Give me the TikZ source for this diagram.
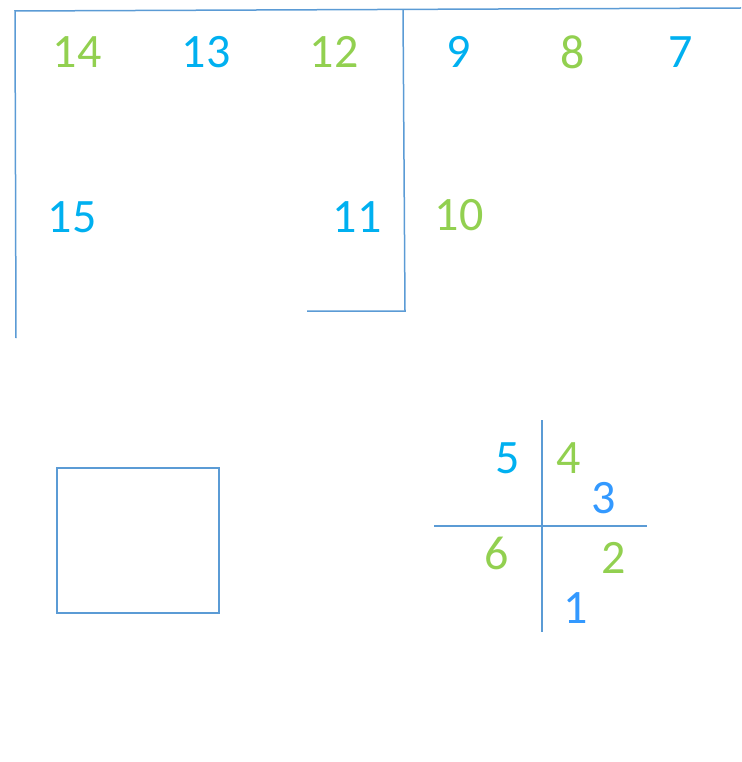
\documentclass[tikz,border=0pt]{standalone}
\usepackage{fontspec}
\setmainfont{Carlito}
\usepackage{tikz}
\usepackage{xcolor}
\definecolor{numgreen}{HTML}{92D050}
\definecolor{numcyan}{HTML}{00B0F0}
\definecolor{numblue}{HTML}{3399FF}
\definecolor{linecol}{HTML}{5B9BD5}

\begin{document}
\begin{tikzpicture}[
  x=1pt, y=-1pt,
  num/.style={inner sep=0pt, font=\fontsize{48}{48}\selectfont},
  gnum/.style={num, text=numgreen},
  cnum/.style={num, text=numcyan},
  bnum/.style={num, text=numblue},
  ln/.style={draw=linecol, line width=1.5pt}
]
\useasboundingbox (0,0) rectangle (741,762);

% frame lines
\draw[ln] (16,338) -- (15,11) -- (741,8);
\draw[ln] (403,10) -- (405,311) -- (307,311);
\draw[ln] (57,468) rectangle (219,613);
\draw[ln] (542,420) -- (542,632);
\draw[ln] (434,526) -- (647,526);

% top row
\node[gnum] (n14) at (77,52)  {14};
\node[cnum] (n13) at (206,52) {13};
\node[gnum] (n12) at (334,52) {12};
\node[cnum] (n9)  at (459,52) {9};
\node[gnum] (n8)  at (573,52) {8};
\node[cnum] (n7)  at (681,52) {7};

% middle row
\node[cnum] (n15) at (72,217)  {15};
\node[cnum] (n11) at (357,217) {11};
\node[gnum] (n10) at (459,215) {10};

% cross
\node[cnum] (n5) at (508,458) {5};
\node[gnum] (n4) at (569,458) {4};
\node[bnum] (n3) at (604,498) {3};
\node[gnum] (n6) at (497,553) {6};
\node[gnum] (n2) at (614,558) {2};
\node[bnum] (n1) at (576,608) {1};
\end{tikzpicture}
\end{document}
